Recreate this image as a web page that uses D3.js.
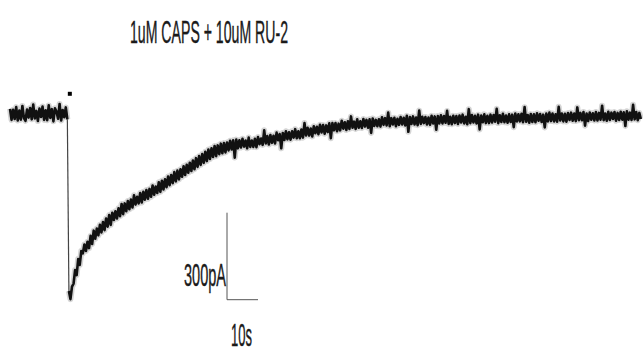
<!DOCTYPE html>
<html>
<head>
<meta charset="utf-8">
<script src="https://cdn.jsdelivr.net/npm/d3@7"></script>
<style>
  body { margin: 0; background: #fff; }
</style>
</head>
<body>
<div id="trace"></div>
<script>
const title = "1uM CAPS + 10uM RU-2";

const preStart = 0, preStep = 0.5;
const preCurrent = [
  28, -10, 25, -7, 34, -12, 22, -9, 38, -4,
  -13, 26, -2, 31, -8, 43, -5, 21, -14, 29,
  0, 36, -10, 23, -11, 40, -3, 27, -15, 30,
  19, -6, 45, -12, 24, -1, 33, -8
];

const postStart = 19, postStep = 0.5;
const postCurrent = [
  -600, -628, -585, -575, -528, -545, -490, -510, -462, -470,
  -440, -462, -430, -452, -410, -438, -392, -420, -385, -408,
  -372, -398, -362, -390, -350, -378, -338, -372, -330, -355,
  -325, -350, -315, -342, -300, -335, -298, -325, -290, -318,
  -285, -312, -270, -302, -275, -298, -262, -295, -258, -285,
  -252, -282, -248, -275, -236, -268, -240, -262, -225, -258,
  -220, -250, -215, -242, -205, -235, -200, -228, -190, -222,
  -185, -215, -180, -206, -170, -200, -165, -192, -158, -186,
  -150, -180, -142, -172, -135, -165, -128, -158, -120, -152,
  -112, -145, -108, -138, -100, -135, -98, -128, -92, -125,
  -90, -122, -88, -115, -82, -112, -80, -140, -78, -108,
  -80, -105, -75, -102, -81, -108, -71, -103, -81, -103,
  -75, -104, -69, -94, -74, -96, -46, -91, -66, -95,
  -62, -89, -65, -91, -54, -80, -59, -108, -55, -79,
  -49, -77, -53, -78, -49, -71, -42, -73, -49, -73,
  -43, -71, -21, -64, -37, -64, -40, -67, -32, -56,
  -34, -59, -27, -53, -28, -58, -29, -52, -22, -73,
  -21, -46, -21, -49, -23, -46, -13, -40, -18, -45,
  -15, -41, 2, -37, -16, -41, -8, -37, -15, -38,
  -7, -33, -10, -37, -8, -55, -5, -31, -10, -32,
  -8, -33, -1, -27, -4, -29, 15, -32, -4, -26,
  -3, -32, -6, -27, 0, -26, -3, -29, 4, -51,
  0, -24, 2, -26, -2, -28, 22, -24, 1, -21,
  0, -26, -2, -27, 4, -22, 2, -44, 3, -22,
  6, -22, 3, -20, 21, -24, 1, -25, 4, -21,
  3, -24, 5, -19, 8, -22, 1, -25, 27, -21,
  7, -19, 4, -22, 8, -43, 5, -18, 9, -21,
  4, -21, 8, -19, 7, -16, 28, -21, 6, -17,
  11, -18, 5, -20, 9, -17, 8, -35, 12, -15,
  9, -15, 11, -18, 34, -16, 7, -20, 10, -17,
  9, -18, 13, -13, 10, -17, 8, -36, 12, -15,
  15, -14, 12, -15, 9, -16, 35, -12, 12, -15,
  11, -16, 14, -10, 15, -13, 12, -14, 33, -11,
  14, -11, 17, -30, 12, -14, 15, -9, 13, -12,
  17, -12, 14, -9, 39, -11, 12, -13, 18, -10,
  15, -7, 17, -13, 14, -10, 18, -9, 16, -31,
  20, -9, 15, -10, 42, -8, 17, -11, 14, -7
];

// drug application marker
const markerTime = [19.3];
const markerLevel = [80];

// scale bar: 10 s by 300 pA
const barTime = [70, 80];
const barCurrent = [-630, -330];
const barLabels = ["300pA", "10s"];

var width = 643, height = 362;

var svg = d3.select("#trace")
  .append("svg")
    .attr("width", width)
    .attr("height", height);

var x = d3.scaleLinear().domain([0, 200]).range([10, 630]);
var y = d3.scaleLinear().domain([-700, 100]).range([320, 88]);

var pre = preCurrent.map(function(v, i) { return { t: preStart + i * preStep, v: v }; });
var post = postCurrent.map(function(v, i) { return { t: postStart + i * postStep, v: v }; });

var line = d3.line()
  .x(function(d) { return x(d.t); })
  .y(function(d) { return y(d.v); });

// the jump from baseline to peak is a thin line
svg.append("path")
  .datum([pre[pre.length - 1], post[0]])
  .attr("fill", "none")
  .attr("stroke", "#444")
  .attr("stroke-width", 1.2)
  .attr("d", line);

[pre, post].forEach(function(seg) {
  svg.append("path")
    .datum(seg)
    .attr("fill", "none")
    .attr("stroke", "#888")
    .attr("stroke-opacity", 0.35)
    .attr("stroke-width", 6)
    .attr("stroke-linejoin", "round")
    .attr("d", line);
  svg.append("path")
    .datum(seg)
    .attr("fill", "none")
    .attr("stroke", "#111")
    .attr("stroke-width", 2.6)
    .attr("stroke-linejoin", "round")
    .attr("d", line);
});

svg.selectAll(".marker")
  .data(markerTime)
  .enter().append("rect")
    .attr("class", "marker")
    .attr("x", function(d) { return x(d) - 2; })
    .attr("y", function(d, i) { return y(markerLevel[i]) - 2; })
    .attr("width", 4)
    .attr("height", 4)
    .attr("fill", "#000");

// scale bar
var bar = svg.append("g");
bar.append("path")
  .attr("fill", "none")
  .attr("stroke", "#555")
  .attr("stroke-width", 1)
  .attr("d", d3.line()([
    [x(barTime[0]), y(barCurrent[1])],
    [x(barTime[0]), y(barCurrent[0])],
    [x(barTime[1]), y(barCurrent[0])]
  ]));

var font = "'Liberation Sans Narrow', 'Liberation Sans', Arial, sans-serif";

function label(sel) {
  sel.attr("lengthAdjust", "spacingAndGlyphs")
    .style("font-family", font)
    .style("font-size", "32px")
    .attr("fill", "#1a1a1a")
    .attr("stroke", "#1a1a1a")
    .attr("stroke-width", 0.4);
}

bar.append("text")
  .attr("x", x(barTime[0]) - 1)
  .attr("y", 286)
  .attr("text-anchor", "end")
  .attr("textLength", 42)
  .call(label)
  .text(barLabels[0]);

bar.append("text")
  .attr("x", 231)
  .attr("y", 346)
  .attr("textLength", 21)
  .call(label)
  .text(barLabels[1]);

svg.append("text")
  .attr("x", 130)
  .attr("y", 43)
  .attr("textLength", 158)
  .call(label)
  .text(title);
</script>
</body>
</html>
